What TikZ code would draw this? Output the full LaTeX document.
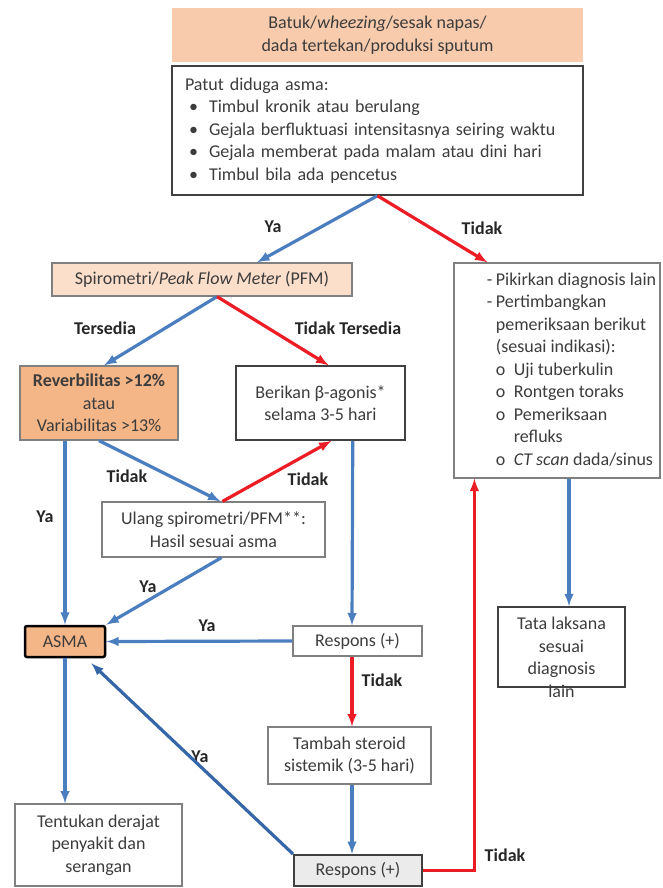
\documentclass[tikz,border=0pt]{standalone}
\usepackage{fontspec}
\setmainfont{Carlito}
\usetikzlibrary{arrows,calc}
\definecolor{peach}{HTML}{F8CBAD}
\definecolor{peachlight}{HTML}{FBDFCB}
\definecolor{orangebox}{HTML}{F4B587}
\definecolor{yablue}{HTML}{4A7EBF}
\definecolor{yadark}{HTML}{3567A8}
\definecolor{tidakred}{HTML}{EC1C24}
\definecolor{textgray}{HTML}{3C3C3C}
\newcommand{\butir}{\hspace*{4pt}\makebox[20pt][l]{\textbullet}}
\newcommand{\strip}{\makebox[9pt][l]{-}}
\newcommand{\bulat}{\makebox[18pt][l]{o}}
\tikzset{
  box/.style={
    rectangle,
    draw=black!50, line width=1.2pt,
    text=textgray,
    font=\fontsize{18}{22.5}\selectfont,
    align=center,
    inner sep=0pt},
  dark box/.style={box, draw=black!75, line width=1.5pt},
  ya/.style={->, draw=yablue, line width=3.2pt},
  tidak/.style={->, draw=tidakred, line width=3.2pt},
  jawab/.style={font=\fontsize{18}{20}\selectfont\bfseries, text=black!85},
}
\tikzset{>=latex}

\begin{document}
\begin{tikzpicture}[x=1pt,y=-1pt]
\useasboundingbox (0,0) rectangle (662,888);

\node[box, draw=none, fill=peach, minimum width=411pt, minimum height=54pt] at (377.5,35) (gejala)
  {Batuk/\textit{wheezing}/sesak napas/\\dada tertekan/produksi sputum};
\node[dark box, minimum width=411pt, minimum height=129pt, align=left, text width=385pt] at (377.5,130.5) (patut)
  {Patut diduga asma:\\
   \butir Timbul kronik atau berulang\\
   \butir Gejala berfluktuasi intensitasnya seiring waktu\\
   \butir Gejala memberat pada malam atau dini hari\\
   \butir Timbul bila ada pencetus};

\node[box, fill=peachlight, minimum width=300pt, minimum height=33pt] at (202,279.5) (spiro)
  {Spirometri/\textit{Peak Flow Meter} (PFM)};
\node[box, fill=orangebox, minimum width=158pt, minimum height=74pt] at (99,403) (rever)
  {\textbf{Reverbilitas >12\%}\\atau\\Variabilitas >13\%};
\node[dark box, minimum width=169pt, minimum height=74pt] at (320.5,403) (berikan)
  {Berikan β-agonis*\\selama 3-5 hari};
\node[box, minimum width=206pt, minimum height=215pt] at (557,370.5) (pikir)
  {\hspace*{29pt}\begin{tabular}{@{}l@{}}
   \strip Pikirkan diagnosis lain\\
   \strip Pertimbangkan\\
   \hspace*{9pt}pemeriksaan berikut\\
   \hspace*{9pt}(sesuai indikasi):\\
   \hspace*{9pt}\bulat Uji tuberkulin\\
   \hspace*{9pt}\bulat Rontgen toraks\\
   \hspace*{9pt}\bulat Pemeriksaan\\
   \hspace*{27pt}refluks\\
   \hspace*{9pt}\bulat \textit{CT scan} dada/sinus
   \end{tabular}};

\node[box, minimum width=223pt, minimum height=55pt] at (213.5,529.5) (ulang)
  {Ulang spirometri/PFM**:\\Hasil sesuai asma};
\node[box, fill=orangebox, draw=black, line width=2.5pt, rounded corners=2pt, minimum width=80pt, minimum height=31pt] at (65,641.5) (asma)
  {ASMA};
\node[box, minimum width=129pt, minimum height=30pt] at (357.5,641) (respons)
  {Respons (+)};
\node[dark box, minimum width=127pt, minimum height=80pt] at (561.5,647) (tata)
  {\raisebox{-16.5pt}[0pt][0pt]{\begin{tabular}{@{}c@{}}Tata laksana\\sesuai\\diagnosis\\lain\end{tabular}}};
\node[box, minimum width=163pt, minimum height=57pt] at (349.5,755.5) (tambah)
  {Tambah steroid\\sistemik (3-5 hari)};
\node[box, minimum width=167pt, minimum height=82pt] at (98.5,845) (tentukan)
  {Tentukan derajat\\penyakit dan\\serangan};
\node[dark box, fill=black!8, line width=2pt, minimum width=128pt, minimum height=31pt] at (358,870.5) (respons2)
  {Respons (+)};

% jawaban
\node[jawab] at (273,227) (ya1) {Ya};
\node[jawab] at (482,228) (tidak1) {Tidak};
\node[jawab] at (105,328) (tersedia) {Tersedia};
\node[jawab] at (348,328) (tidaktersedia) {Tidak Tersedia};
\node[jawab] at (127,476) (tidak2) {Tidak};
\node[jawab] at (308,479) (tidak3) {Tidak};
\node[jawab] at (45,517) (ya2) {Ya};
\node[jawab] at (148,587) (ya3) {Ya};
\node[jawab] at (207,626) (ya4) {Ya};
\node[jawab] at (382,680) (tidak4) {Tidak};
\node[jawab] at (200,757) (ya5) {Ya};
\node[jawab] at (505,855) (tidak5) {Tidak};

\draw[ya]     (patut.south) -- ($(spiro.north)+(55,0)$);
\draw[tidak]  (patut.south) -- ($(pikir.north west)+(34,0)$);
\draw[ya]     ($(spiro.south)+(15,0)$) -- ($(rever.north)+(5,0)$);
\draw[tidak]  ($(spiro.south)+(15,0)$) -- ($(berikan.north)+(8,0)$);

\draw[ya]     (asma.north |- rever.south) -- (asma.north);
\draw[ya]     (rever.south) -- ($(ulang.north)+(7,0)$);
\draw[tidak]  ($(ulang.north)+(9,0)$) -- ($(berikan.south)+(11,0)$);
\draw[ya]     ($(ulang.south)+(8,0)$) -- (asma.north east);
\draw[ya]     ($(berikan.south east)+(-53,0)$) -- ($(respons.north)+(-5.5,0)$);
\draw[ya]     (respons.west) -- (asma.east);
\draw[tidak]  ($(respons.south)+(-5.5,0)$) -- ($(tambah.north)+(2.5,0)$);
\draw[ya]     ($(tambah.south)+(2.5,0)$) -- ($(respons2.north)+(-6,0)$);
\draw[ya, draw=yadark] (respons2.north west) -- ($(asma.south east)+(-15,5)$);
\draw[tidak]  (respons2.east) -| ($(pikir.south west)+(21,0)$);
\draw[ya]     ($(pikir.south)+(12,0)$) -- ($(tata.north)+(7.5,0)$);
\draw[ya]     (asma.south) -- (asma.south |- tentukan.north);
\end{tikzpicture}
\end{document}
